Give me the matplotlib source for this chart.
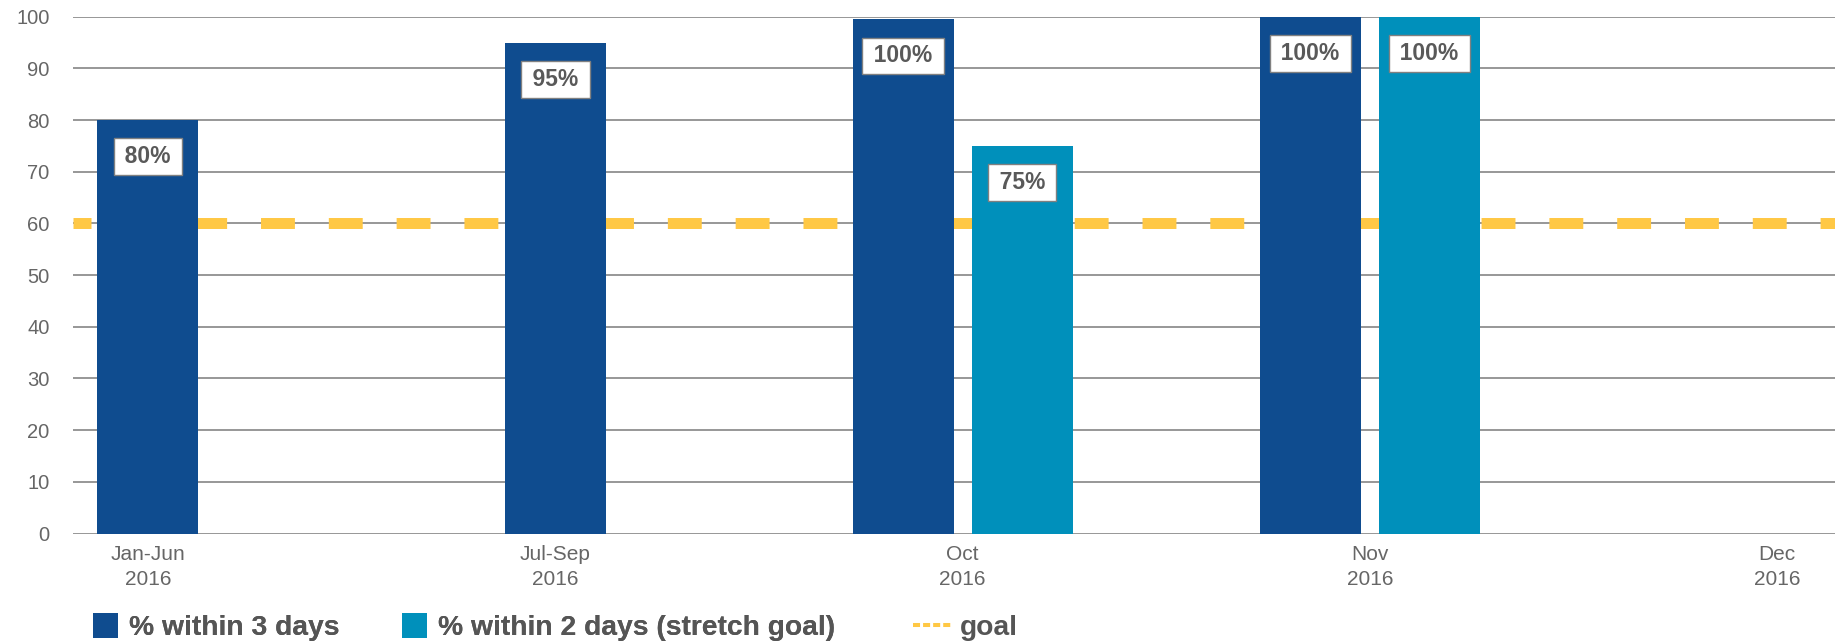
import numpy as np
import matplotlib
matplotlib.use("Agg")
import matplotlib.pyplot as plt
from matplotlib.patches import Rectangle
from matplotlib.lines import Line2D
from matplotlib.legend_handler import HandlerPatch

plt.rcParams['font.family'] = ['Liberation Sans', 'DejaVu Sans']

# data
periods = ['Jan-Jun\n2016', 'Jul-Sep\n2016', 'Oct\n2016', 'Nov\n2016', 'Dec\n2016']
within_3_days = [80, 95, 99.5, 100, np.nan]
within_2_days = [np.nan, np.nan, 75, 100, np.nan]
goal = 60

DARK = '#0f4c8f'
LIGHT = '#0090bb'
GOLD = '#ffc845'
TXT = '#595959'


class SquareHandler(HandlerPatch):
    # square legend key, right-aligned inside the handle box
    def create_artists(self, legend, orig_handle, xdescent, ydescent,
                       width, height, fontsize, trans):
        side = 18.0
        p = Rectangle((width - xdescent - side, height / 2 - ydescent - side / 2),
                      side, side, facecolor=orig_handle.get_facecolor(),
                      edgecolor='none', transform=trans)
        return [p]


fig = plt.figure(figsize=(18.35, 6.44), dpi=100)
ax = fig.add_axes([73 / 1835, 0.17158, 1 - 73 / 1835, 0.80249])

x = np.arange(len(periods))
a3 = np.array(within_3_days, dtype=float)
a2 = np.array(within_2_days, dtype=float)
both = ~np.isnan(a3) & ~np.isnan(a2)
width = 0.248
shift = 0.146

for vals, offs, color in [(a3, np.where(both, -shift, 0.0), DARK),
                          (a2, np.where(both, shift, 0.0), LIGHT)]:
    m = ~np.isnan(vals)
    ax.bar(x[m] + offs[m], vals[m], width, color=color, zorder=2)
    for xp, v in zip(x[m] + offs[m], vals[m]):
        ax.text(xp, v - 7.1, f'\u2009{v:.0f}%\u2009', ha='center', va='center',
                fontsize=16.5, fontweight='bold', color=TXT, zorder=3,
                bbox=dict(boxstyle='square,pad=0.3', fc='white', ec='#808080', lw=1))

ax.axhline(goal, color=GOLD, lw=7.9, linestyle=(1.45, (3.09, 3.09)), zorder=1.5)

ax.set_xlim(-0.1841, 4.1419)
ax.set_ylim(0, 100)
ax.set_yticks(range(0, 101, 10))
ax.set_xticks(x)
ax.set_xticklabels(periods, linespacing=1.4)
ax.yaxis.grid(True, color='#7a7a7a', lw=1.1)
ax.set_axisbelow(True)
for s in ax.spines.values():
    s.set_visible(False)
ax.tick_params(length=0, colors='#666666')
ax.tick_params(axis='y', pad=17, labelsize=14.5)
ax.tick_params(axis='x', pad=8, labelsize=15)

leg_y = 0.025
bar_handles = [Rectangle((0, 0), 1, 1, facecolor=DARK),
               Rectangle((0, 0), 1, 1, facecolor=LIGHT)]
leg1 = fig.legend(bar_handles, ['% within 3 days', '% within 2 days (stretch goal)'],
                  loc='center left', bbox_to_anchor=(81 / 1835, leg_y),
                  ncol=2, frameon=False, borderpad=0, borderaxespad=0,
                  handlelength=1.3, handletextpad=0.39, columnspacing=1.83,
                  prop={'weight': 'bold', 'size': 20.3}, labelcolor='#555555',
                  handler_map={Rectangle: SquareHandler()})

goal_handle = Line2D([], [], color=GOLD, lw=2.9, linestyle=(0, (1.75, 0.75)))
fig.legend([goal_handle], ['goal'], loc='center left',
           bbox_to_anchor=(913 / 1835, leg_y), frameon=False,
           borderpad=0, borderaxespad=0, handlelength=1.38, handletextpad=0.3,
           prop={'weight': 'bold', 'size': 20.3}, labelcolor='#555555')
fig.add_artist(leg1)

fig.savefig('out.png', dpi=100)
